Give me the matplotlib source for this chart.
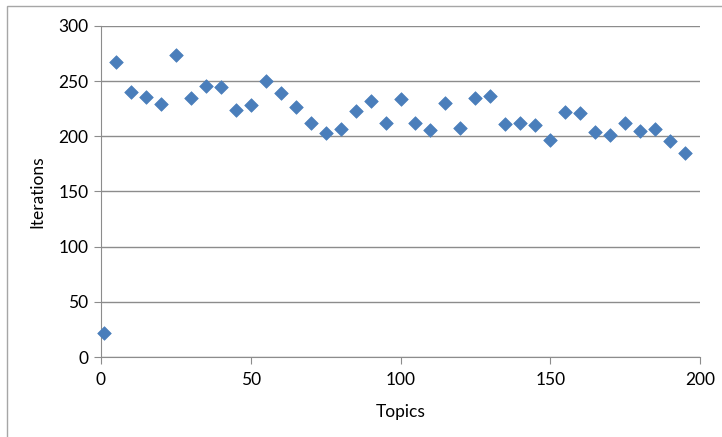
import matplotlib
matplotlib.use("Agg")
import matplotlib.pyplot as plt
from matplotlib.patches import Rectangle

topics = [1, 5, 10, 15, 20, 25, 30, 35, 40, 45, 50, 55, 60, 65, 70, 75, 80,
          85, 90, 95, 100, 105, 110, 115, 120, 125, 130, 135, 140, 145, 150,
          155, 160, 165, 170, 175, 180, 185, 190, 195]
iterations = [22, 267, 240, 236, 229, 274, 235, 246, 245, 224, 228, 250, 239,
              227, 212, 203, 207, 223, 232, 212, 234, 212, 206, 230, 208, 235,
              237, 211, 212, 210, 197, 222, 221, 204, 201, 212, 205, 207, 196,
              185]
x_ticks = [0, 50, 100, 150, 200]
y_ticks = [0, 50, 100, 150, 200, 250, 300]

plt.rcParams["font.family"] = ["Lato", "DejaVu Sans"]

W, H = 722, 437
fig = plt.figure(figsize=(W / 100, H / 100), dpi=100)
fig.patches.append(Rectangle((7 / W, -0.1), 1.2, 1 - 6 / H + 0.1,
                             transform=fig.transFigure, fill=False,
                             edgecolor="#a6a6a6", linewidth=1))

ax = fig.add_axes([101 / W, 1 - 357 / H, 599 / W, 331 / H])
ax.scatter(topics, iterations, marker="D", s=48, color="#4a7ebb",
           edgecolor="#4a7ebb", linewidth=0.5, zorder=3, clip_on=False)

ax.set_xlim(0, 200)
ax.set_ylim(0, 300)
ax.set_xticks(x_ticks)
ax.set_yticks(y_ticks)
ax.grid(axis="y", color="#8c8c8c", linewidth=1)
ax.set_axisbelow(True)
for side in ["top", "right"]:
    ax.spines[side].set_visible(False)
for side in ["left", "bottom"]:
    ax.spines[side].set_color("#8c8c8c")
ax.tick_params(direction="out", length=5, color="#8c8c8c", labelsize=12.5,
               pad=4)
ax.tick_params(axis="x", pad=6)
ax.set_xlabel("Topics", fontsize=12.5, labelpad=11)
ax.set_ylabel("Iterations", fontsize=12.5, labelpad=9)

fig.savefig("out.png", dpi=100)
